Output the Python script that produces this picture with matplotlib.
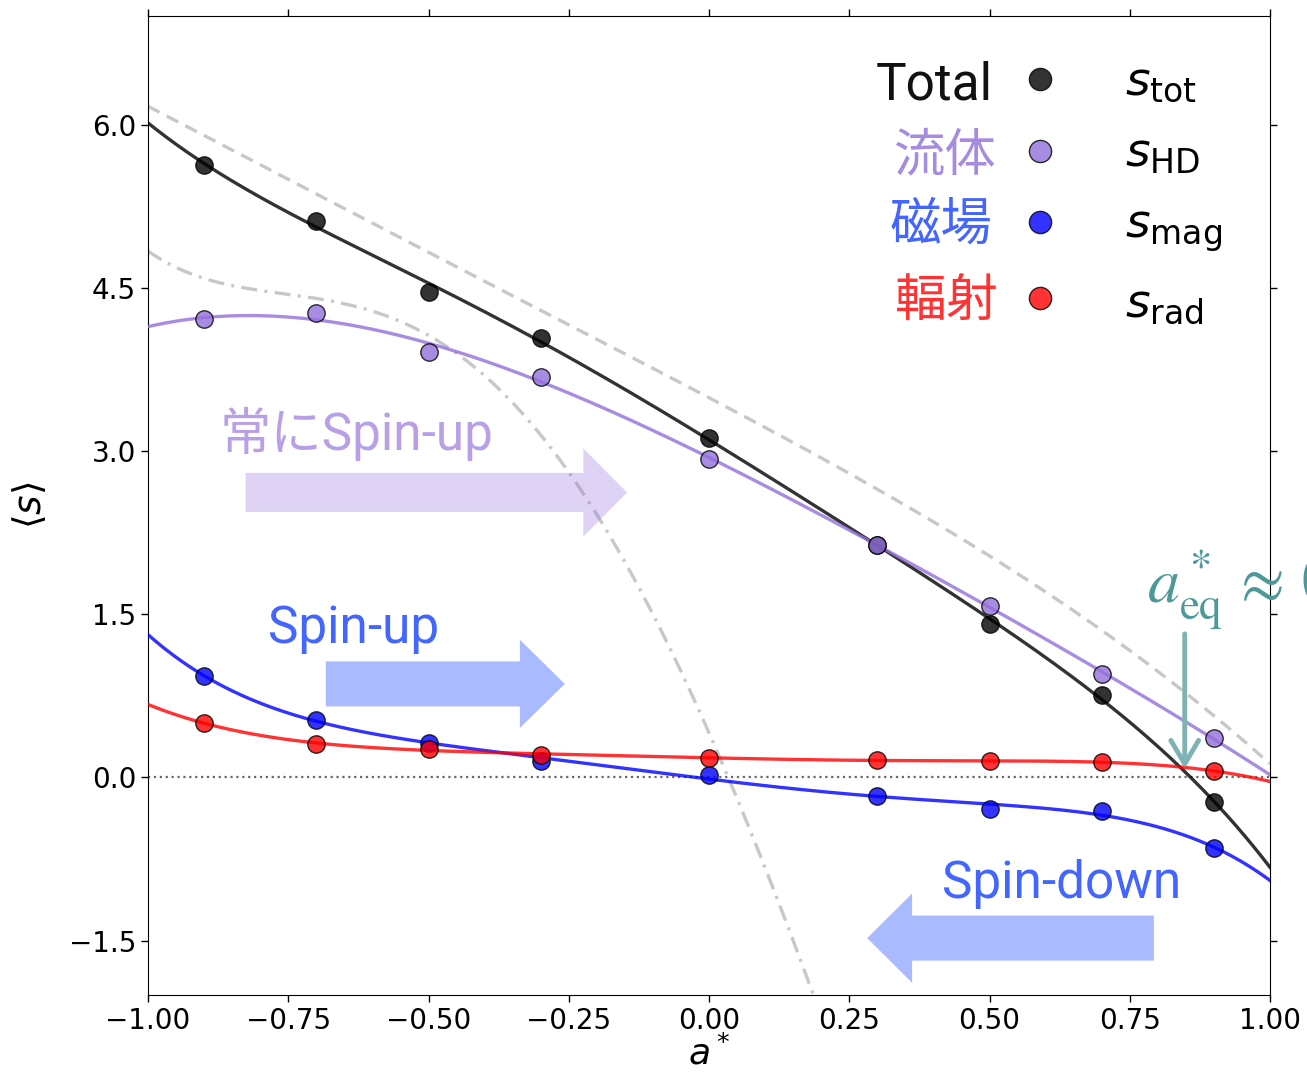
import numpy as np
import matplotlib
matplotlib.use("Agg")
import matplotlib.pyplot as plt
from matplotlib.patches import FancyArrow

# ---------------- data ----------------
spin = [-0.9, -0.7, -0.5, -0.3, 0.0, 0.3, 0.5, 0.7, 0.9]
s_tot = [5.63, 5.12, 4.46, 4.04, 3.12, 2.14, 1.41, 0.76, -0.23]
s_hd = [4.21, 4.27, 3.91, 3.68, 2.93, 2.14, 1.58, 0.95, 0.36]
s_mag = [0.93, 0.53, 0.32, 0.15, 0.02, -0.17, -0.29, -0.31, -0.65]
s_rad = [0.50, 0.31, 0.26, 0.21, 0.18, 0.16, 0.15, 0.14, 0.06]

# reference curves
ref_dash_x = [-1.0, -0.75, -0.5, -0.25, 0.0, 0.25, 0.5, 0.75, 0.9, 1.0]
ref_dash_y = [6.17, 5.50, 4.82, 4.17, 3.49, 2.80, 2.02, 1.18, 0.57, 0.12]
ref_dd_x = [-1.0, -0.9, -0.7, -0.5, -0.4, -0.3, -0.2, -0.1, 0.0, 0.1, 0.185]
ref_dd_y = [4.83, 4.61, 4.38, 4.06, 3.72, 3.14, 2.44, 1.46, 0.40, -0.79, -2.0]

a_eq = 0.848
xticks = [-1.00, -0.75, -0.50, -0.25, 0.00, 0.25, 0.50, 0.75, 1.00]
yticks = [-1.5, 0.0, 1.5, 3.0, 4.5, 6.0]

W, H = 1307, 1074
fig = plt.figure(figsize=(W / 100, H / 100), dpi=100)
ax = fig.add_axes([148 / W, 1 - 995 / H, 1122 / W, 979 / H])

xx = np.linspace(-1, 1, 400)

def fit(x, y, deg):
    return np.polyval(np.polyfit(x, y, deg), xx)

ax.axhline(0, ls=':', color='dimgray', lw=1.6, zorder=1)

# reference curves
ax.plot(xx, fit(ref_dash_x, ref_dash_y, 4), ls=(0, (3.9, 2.4)), color='#c8c8c8', lw=2.4, zorder=2)
xd = np.linspace(-1, 0.25, 300)
ax.plot(xd, np.polyval(np.polyfit(ref_dd_x, ref_dd_y, 5), xd), ls=(0, (4.8, 2.2, 0.9, 2.2)),
        color='#c8c8c8', lw=2.4, zorder=2)

series = [
    (s_tot, 'black', 5),
    (s_hd, 'mediumpurple', 4),
    (s_mag, 'blue', 5),
    (s_rad, 'red', 5),
]
for ys, c, deg in series:
    ax.plot(xx, fit(spin, ys, deg), color=c, lw=2.4, alpha=0.8, zorder=3)
    ax.plot(spin, ys, 'o', color=c, mec='black', mew=1.0, ms=12.5, alpha=0.8, zorder=4)

ax.set_xlim(-1, 1)
ax.set_ylim(-2.0, 7.0)
ax.set_xticks(xticks)
ax.set_yticks(yticks)
ax.tick_params(labelsize=20, top=True, right=True, length=5, width=1)
ax.set_xlabel(r'$a^*$', fontsize=26, labelpad=0)
ax.set_ylabel(r'$\langle s \rangle$', fontsize=27, labelpad=14)

# block arrows
ax.add_patch(FancyArrow(-0.826, 2.62, 0.68, 0, width=0.36, head_width=0.81, head_length=0.078,
                        length_includes_head=True, color='mediumpurple', alpha=0.3, lw=0, zorder=2.5))
ax.add_patch(FancyArrow(-0.683, 0.86, 0.426, 0, width=0.414, head_width=0.81, head_length=0.080,
                        length_includes_head=True, color='#4466ff', alpha=0.45, lw=0, zorder=2.5))
ax.add_patch(FancyArrow(0.793, -1.477, -0.511, 0, width=0.414, head_width=0.82, head_length=0.080,
                        length_includes_head=True, color='#4466ff', alpha=0.45, lw=0, zorder=2.5))

fam = ['Roboto', 'Noto Sans CJK JP', 'DejaVu Sans']

def ftext(px, py, s, **kw):
    fig.text(px / W, 1 - py / H, s, va='baseline', ha='left', **kw)

ftext(220, 450, '常にSpin-up', fontsize=37, color='#b9a0e6', family=fam)
ftext(268, 643, 'Spin-up', fontsize=37, color='#4466ff', family=fam)
ftext(942, 898, 'Spin-down', fontsize=37, color='#4466ff', family=fam)

# legend-like labels
labels = ['Total', '流体', '磁場', '輻射']
label_colors = ['#111111', '#a58ce0', '#4466ff', '#ff3333']
label_x = [876, 893, 890, 895]
label_y = [99, 170, 240, 317]
marker_y = [79, 151, 222, 298]
marker_colors = ['black', 'mediumpurple', 'blue', 'red']
sym = [r'$s_{\rm tot}$', r'$s_{\rm HD}$', r'$s_{\rm mag}$', r'$s_{\rm rad}$']
sym_y = [95, 167, 237, 316]
for lab, lc, lx, ly, my, mc, sm, sy in zip(labels, label_colors, label_x, label_y,
                                          marker_y, marker_colors, sym, sym_y):
    ftext(lx, ly, lab, fontsize=37, color=lc, family=fam)
    fig.add_artist(plt.Line2D([1040 / W], [1 - my / H], marker='o', ms=16, color=mc,
                              mec='black', mew=1.0, alpha=0.8, transform=fig.transFigure))
    ftext(1125, sy, sm, fontsize=34, color='black')

# equilibrium spin annotation
ftext(1147, 603, r'$a^*_{\rm eq}\,\approx\,0.85$', fontsize=46, color='#4d9999', math_fontfamily='stix')
ax.annotate('', xy=(a_eq, 0.08), xytext=(a_eq, 1.32),
            arrowprops=dict(arrowstyle='->,head_length=0.85,head_width=0.5', mutation_scale=20,
                            lw=3.5, color='#7fb3b3', shrinkA=0, shrinkB=0), zorder=5)

fig.savefig('out.png', dpi=100)
